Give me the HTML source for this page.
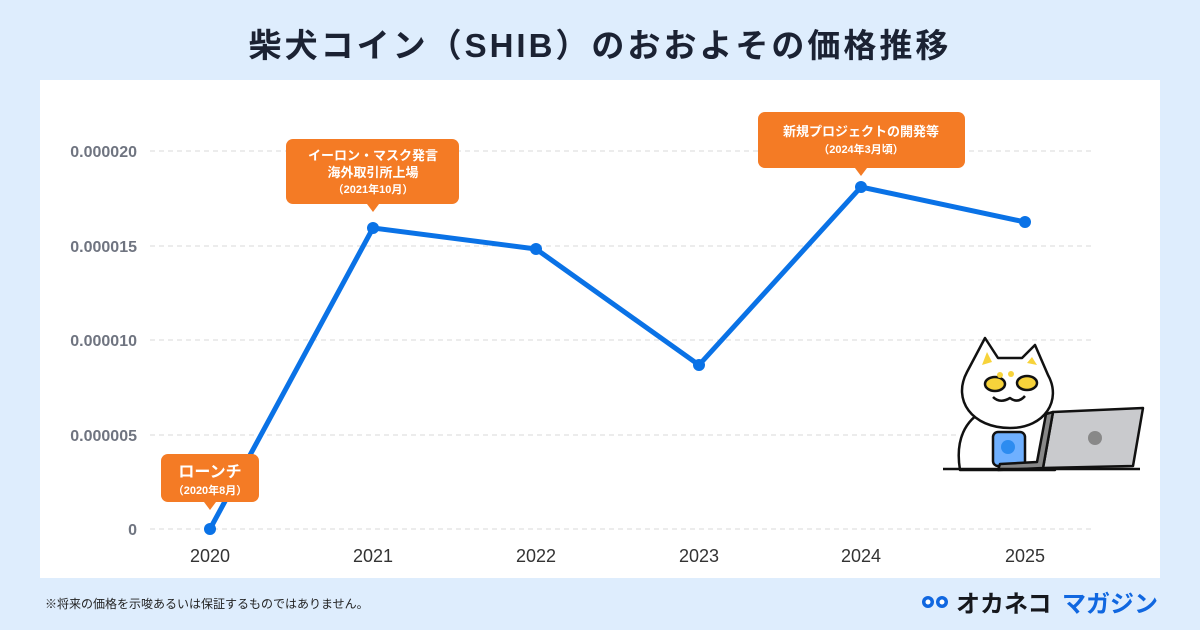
<!DOCTYPE html>
<html><head><meta charset="utf-8"><style>
html,body{margin:0;padding:0}
body{width:1200px;height:630px;background:#deedfd;position:relative;overflow:hidden;font-family:"Liberation Sans","Noto Sans CJK JP",sans-serif}
</style></head><body>
<svg width="1200" height="630" xmlns="http://www.w3.org/2000/svg" style="position:absolute;left:0;top:0;font-family:'Liberation Sans','Noto Sans CJK JP',sans-serif">
<text x="600" y="57" text-anchor="middle" font-size="33" font-weight="700" fill="#1b2233" letter-spacing="3">柴犬コイン（SHIB）のおおよその価格推移</text>
<rect x="40" y="80" width="1120" height="498" fill="#fff"/>
<g stroke="#d8d8d8" stroke-dasharray="5,4" stroke-width="1">
<line x1="150" y1="151" x2="1095" y2="151"/><line x1="150" y1="246" x2="1095" y2="246"/><line x1="150" y1="340" x2="1095" y2="340"/><line x1="150" y1="435" x2="1095" y2="435"/><line x1="150" y1="529" x2="1095" y2="529"/>
</g>
<g font-size="16" font-weight="700" fill="#6f7480" text-anchor="end">
<text x="137" y="157">0.000020</text><text x="137" y="252">0.000015</text><text x="137" y="346">0.000010</text><text x="137" y="441">0.000005</text><text x="137" y="535">0</text>
</g>
<g font-size="18" fill="#333" text-anchor="middle">
<text x="210" y="562">2020</text><text x="373" y="562">2021</text><text x="536" y="562">2022</text><text x="699" y="562">2023</text><text x="861" y="562">2024</text><text x="1025" y="562">2025</text>
</g>
<polyline points="210,529 373,228 536,249 699,365 861,187 1025,222" fill="none" stroke="#0a72e6" stroke-width="5" stroke-linejoin="round"/>
<g fill="#0a72e6"><circle cx="210" cy="529" r="6"/><circle cx="373" cy="228" r="6"/><circle cx="536" cy="249" r="6"/><circle cx="699" cy="365" r="6"/><circle cx="861" cy="187" r="6"/><circle cx="1025" cy="222" r="6"/></g>
<g fill="#f47b25">
<rect x="161" y="454" width="98" height="48" rx="7"/><polygon points="204,502 216,502 210,510"/>
<rect x="286" y="139" width="173" height="65" rx="7"/><polygon points="367,204 379,204 373,212"/>
<rect x="758" y="112" width="207" height="56" rx="7"/><polygon points="855,168 867,168 861,176"/>
</g>
<g fill="#fff" text-anchor="middle" font-weight="700">
<text x="210" y="477" font-size="16">ローンチ</text><text x="210" y="494" font-size="11">（2020年8月）</text>
<text x="373" y="160" font-size="13">イーロン・マスク発言</text><text x="373" y="177" font-size="13">海外取引所上場</text><text x="373" y="193" font-size="11">（2021年10月）</text>
<text x="861" y="136" font-size="13">新規プロジェクトの開発等</text><text x="861" y="153" font-size="11">（2024年3月頃）</text>
</g>
<g stroke="#111" stroke-width="2.5" stroke-linejoin="round">
<path d="M960,470 C955,440 965,420 985,410 L1040,410 C1055,420 1060,445 1055,470 Z" fill="#fff"/>
<path d="M967,372 L985,338 L998,358 L1022,358 L1035,345 L1048,375 C1062,400 1045,428 1010,428 C972,428 952,400 967,372 Z" fill="#fff"/>
<polygon points="987,352 982,365 992,362" fill="#f7d33b" stroke="none"/>
<polygon points="1032,357 1027,363 1037,365" fill="#f7d33b" stroke="none"/>
<ellipse cx="995" cy="384" rx="10" ry="7" fill="#f7d33b"/><ellipse cx="1027" cy="383" rx="10" ry="7" fill="#f7d33b"/>
<path d="M993,397 Q1000,404 1010,398 Q1018,404 1025,396" fill="none"/>
<rect x="993" y="432" width="32" height="34" rx="5" fill="#6fb0ff"/>
<path d="M1053,412 L1143,408 L1133,466 L1043,468 Z" fill="#c9cacd"/>
<path d="M1043,468 L1053,412 L1046,414 L1037,462 L1000,464 L998,470 Z" fill="#888"/>
</g>
<circle cx="1008" cy="447" r="7" fill="#2d8cf0"/>
<circle cx="1095" cy="438" r="7" fill="#888"/>
<circle cx="1000" cy="375" r="3" fill="#f7d33b"/><circle cx="1011" cy="374" r="3" fill="#f7d33b"/>
<line x1="943" y1="469" x2="1140" y2="469" stroke="#111" stroke-width="2.5"/>
<text x="45" y="608" font-size="12" fill="#222">※将来の価格を示唆あるいは保証するものではありません。</text>
<g fill="#1067e0"><circle cx="928" cy="602" r="6"/><circle cx="942" cy="602" r="6"/></g>
<g fill="#fff"><circle cx="928" cy="602" r="2.5"/><circle cx="942" cy="602" r="2.5"/></g>
<text x="956" y="612" font-size="24" font-weight="700" fill="#16181d">オカネコ</text>
<text x="1062" y="612" font-size="24" font-weight="700" fill="#1067e0">マガジン</text>
</svg>
</body></html>
